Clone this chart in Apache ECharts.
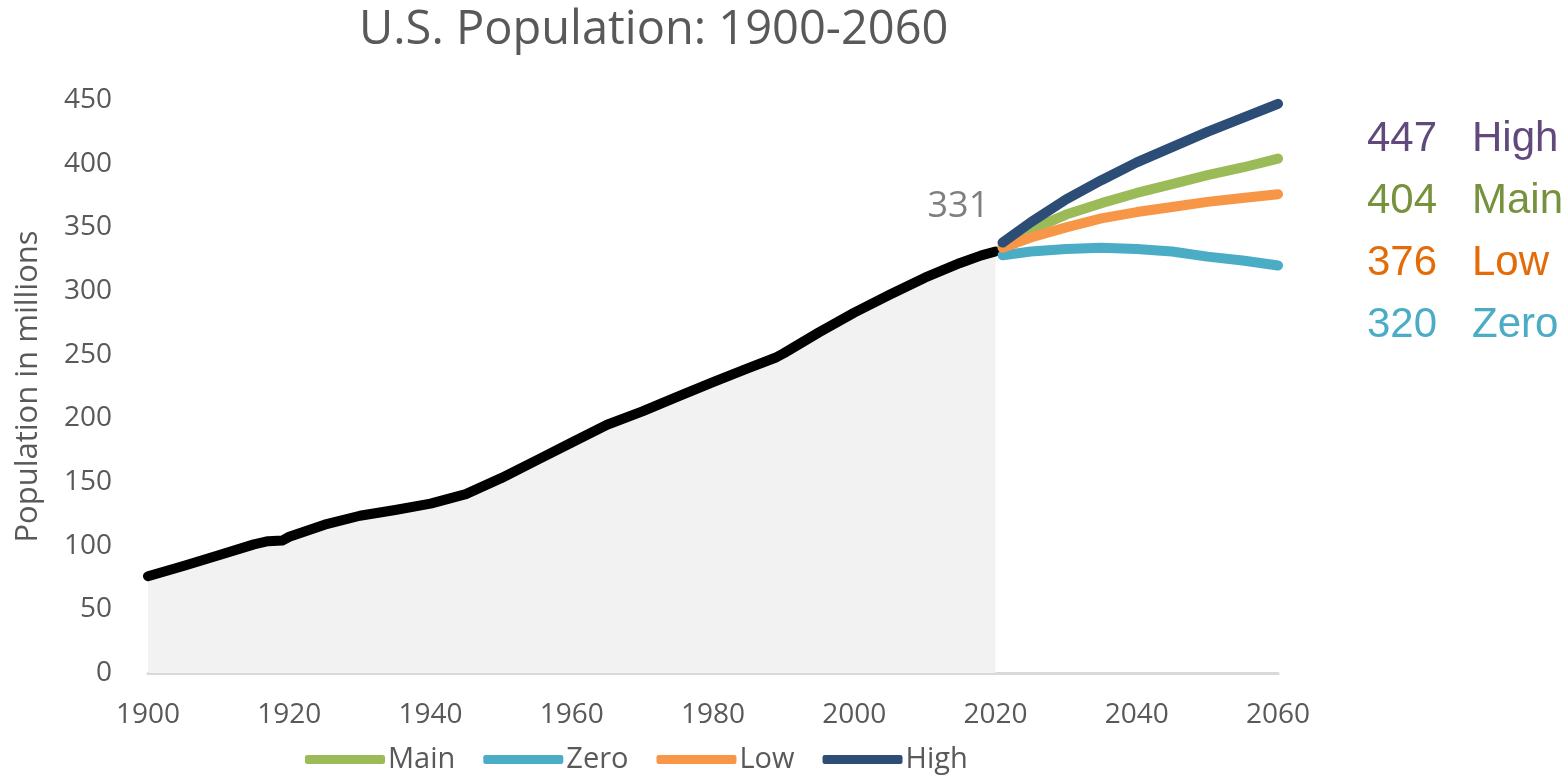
<!DOCTYPE html>
<html>
<head>
<meta charset="utf-8">
<script src="https://cdn.jsdelivr.net/npm/echarts@6/dist/echarts.min.js"></script>
<style>
html, body { margin: 0; padding: 0; background: #fff; }
#chart { width: 1562px; height: 781px; }
</style>
</head>
<body>
<div id="chart"></div>
<script>
// historical population (millions)
const histYears = [1900, 1905, 1910, 1915, 1917, 1919, 1920, 1925, 1930, 1935, 1940, 1945, 1950, 1955, 1960, 1965, 1970, 1975, 1980, 1985, 1989, 1990, 1995, 2000, 2005, 2010, 2015, 2018, 2020];
const histValues = [76, 84, 92.5, 101, 103.5, 104, 107, 116.5, 123.5, 128, 133, 140.5, 153, 167, 181, 195, 205.5, 217, 228.5, 239.5, 248, 251, 267.5, 283, 297, 310.5, 322, 328, 331];

// projections
const projYears = [2021, 2025, 2030, 2035, 2040, 2045, 2050, 2055, 2060];
const mainValues = [335, 348, 360, 369, 377, 384, 391, 397, 404];
const zeroValues = [328, 331, 333, 334, 333, 331, 327, 324, 320];
const lowValues = [334, 342, 350, 357, 362, 366, 370, 373, 376];
const highValues = [338, 354, 372, 387, 401, 413, 425, 436, 447];

const seriesNames = ['Main', 'Zero', 'Low', 'High'];
const xTicks = { min: 1900, max: 2060, interval: 20 };
const yTicks = { min: 0, max: 450, interval: 50 };

const lineColors = { Main: '#9bbb59', Zero: '#4bacc6', Low: '#f79646', High: '#2c4d75' };
const endColors = { High: '#604a7b', Main: '#76923c', Low: '#e36c09', Zero: '#4bacc6' };

const pairs = (xs, ys) => xs.map((x, i) => [x, ys[i]]);
const projMap = { Main: mainValues, Zero: zeroValues, Low: lowValues, High: highValues };

var myChart = echarts.init(document.getElementById('chart'));

const projSeries = seriesNames.map(name => ({
    name: name,
    type: 'line',
    data: pairs(projYears, projMap[name]),
    showSymbol: false,
    symbol: 'none',
    lineStyle: { color: lineColors[name], width: 10, cap: 'round', join: 'round' },
    itemStyle: { color: lineColors[name] },
    z: 3
}));

// end value labels on the right, ordered by value
const endOrder = ['High', 'Main', 'Low', 'Zero'];
const endGraphics = [];
endOrder.forEach((name, i) => {
    const vals = projMap[name];
    const y = 142 + i * 62;
    endGraphics.push({
        type: 'text', left: 1367, top: y - 24,
        style: { text: String(vals[vals.length - 1]), fontSize: 42, fill: endColors[name], fontFamily: 'Liberation Sans' }
    });
    endGraphics.push({
        type: 'text', left: 1472, top: y - 24,
        style: { text: name, fontSize: 42, fill: endColors[name], fontFamily: 'Liberation Sans' }
    });
});

myChart.setOption({
    animation: false,
    textStyle: { fontFamily: 'Open Sans' },
    title: {
        text: 'U.S. Population: 1900-2060',
        left: 354,
        top: 2,
        textStyle: { fontSize: 47, fontWeight: 'normal', color: '#595959', fontFamily: 'Open Sans' }
    },
    legend: {
        data: seriesNames,
        bottom: 2,
        left: 300,
        itemWidth: 80,
        itemHeight: 9,
        itemGap: 28,
        icon: 'roundRect',
        textStyle: { fontSize: 29, color: '#595959', padding: [0, 0, 0, -2] }
    },
    grid: { left: 148, right: 284, top: 100, bottom: 108 },
    xAxis: {
        type: 'value',
        min: xTicks.min,
        max: xTicks.max,
        interval: xTicks.interval,
        axisLine: { lineStyle: { color: '#d9d9d9', width: 3 } },
        axisTick: { show: false },
        splitLine: { show: false },
        axisLabel: { fontSize: 28, color: '#595959', margin: 28, formatter: v => String(v) }
    },
    yAxis: {
        type: 'value',
        min: yTicks.min,
        max: yTicks.max,
        interval: yTicks.interval,
        name: 'Population in millions',
        nameLocation: 'middle',
        nameGap: 104,
        nameTextStyle: { fontSize: 31, color: '#595959' },
        axisLine: { show: false },
        axisTick: { show: false },
        splitLine: { show: false },
        axisLabel: { fontSize: 28, color: '#595959', margin: 36 }
    },
    series: [
        {
            name: 'Historical',
            type: 'line',
            data: pairs(histYears, histValues),
            showSymbol: false,
            symbol: 'none',
            lineStyle: { color: '#000', width: 10, cap: 'round', join: 'round' },
            areaStyle: { color: '#f2f2f2', opacity: 1 },
            endLabel: {
                show: true,
                formatter: p => Math.round(p.value[1]),
                offset: [-76, -45],
                fontSize: 36,
                color: '#7f7f7f',
                fontFamily: 'Open Sans'
            },
            z: 2
        }
    ].concat(projSeries),
    graphic: endGraphics
});
</script>
</body>
</html>
